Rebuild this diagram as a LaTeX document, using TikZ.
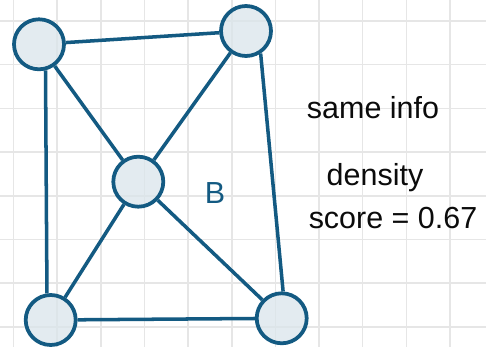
\documentclass[tikz,border=0pt]{standalone}
\usepackage{fontspec}
\setmainfont{Liberation Sans}
\usepackage{xcolor}
\usepackage{tikz}
\definecolor{edge}{HTML}{135A82}
\definecolor{vfill}{HTML}{DAE5EB}
\definecolor{gridc}{HTML}{E6E6E6}
\definecolor{ink}{HTML}{0B0B0B}

\begin{document}
\begin{tikzpicture}[x=0.03cm,y=-0.03cm,
  vtx/.style={circle,draw=edge,line width=3.2pt,fill=vfill,fill opacity=0.75,
    text opacity=1,minimum size=1.5cm,inner sep=0pt},
  lnk/.style={draw=edge,line width=3pt},
  hand/.style={font=\fontsize{26}{30}\selectfont,text=ink,inner sep=0pt}]
  \useasboundingbox[fill=white] (0,0) rectangle (486,347);
  % grid paper
  \foreach \k in {0,...,10} {\draw[gridc,line width=1.3pt] (13.5+43.65*\k,0) -- (13.5+43.65*\k,347);}
  \foreach \k in {0,...,7} {\draw[gridc,line width=1.3pt] (0,21+43.7*\k) -- (486,21+43.7*\k);}
  % vertices
  \node[vtx] (tl) at (39,44.3) {};
  \node[vtx] (tr) at (246,31) {};
  \node[vtx] (mid) at (138.3,181.7) {};
  \node[vtx] (bl) at (50.7,320) {};
  \node[vtx] (br) at (281.7,318.3) {};
  % edges (the two long sides leave the circles off-centre)
  \foreach \a/\b in {tl/tr,tl/mid,tr/mid,mid/bl,mid/br,bl/br} {\path[lnk] (\a) -- (\b);}
  \path[lnk] (tl.-76) -- (bl.98);
  \path[lnk] (tr.-57) -- (br.87);
  % labels
  \node[hand,text=edge] (lbB) at (215,193) {B};
  \node[hand] (same) at (373,108) {same info};
  \node[hand] (dens) at (375,178) {density};
  \node[hand] (score) at (393,218) {score = 0.67};
\end{tikzpicture}
\end{document}
